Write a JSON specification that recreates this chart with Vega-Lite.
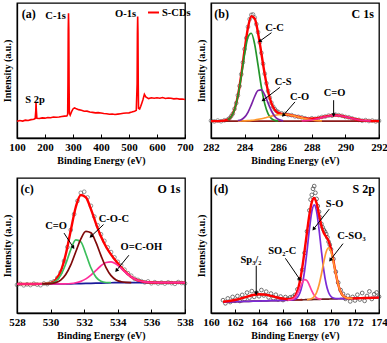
{
  "$schema": "https://vega.github.io/schema/vega-lite/v6.json",
  "background": "white",
  "padding": {"left": 1, "top": 2, "right": 0, "bottom": 0},
  "columns": 2,
  "spacing": {"row": 40, "column": 26},
  "bounds": "flush",
  "config": {
    "font": "Liberation Serif",
    "view": {"stroke": "black", "strokeWidth": 1.3},
    "axis": {"grid": false, "domainColor": "black", "domainWidth": 1.3, "tickColor": "black", "labelColor": "black", "titleColor": "black", "labelFont": "Liberation Serif", "titleFont": "Liberation Serif", "labelFontWeight": "bold", "titleFontWeight": "bold", "labelFontSize": 11, "titleFontSize": 10},
    "axisX": {"tickSize": -4, "labelPadding": 7, "titlePadding": 3, "labelOverlap": false, "labelFlush": false},
    "axisY": {"labels": false, "ticks": false, "titlePadding": 5},
    "text": {"font": "Liberation Serif", "fontWeight": "bold", "color": "black"}
  },
  "resolve": {"scale": {"x": "independent", "y": "independent", "color": "independent", "strokeWidth": "independent"}, "legend": {"color": "independent"}},
  "datasets": {
    "a_line": [
      {"x":100,"y":12.4},{"x":110,"y":12.9},{"x":120,"y":12.5},{"x":130,"y":13.2},{"x":140,"y":13.0},{"x":150,"y":13.6},{"x":160,"y":13.9},{"x":165,"y":14.5},{"x":167,"y":20.0},{"x":168,"y":26.0},{"x":169,"y":21.0},{"x":171,"y":14.6},{"x":180,"y":14.4},{"x":190,"y":14.9},{"x":200,"y":14.7},{"x":210,"y":15.2},{"x":220,"y":15.0},{"x":230,"y":15.6},{"x":240,"y":15.4},{"x":250,"y":15.6},{"x":260,"y":15.9},{"x":270,"y":16.2},{"x":278,"y":16.3},{"x":281,"y":17.5},{"x":282,"y":40},{"x":283,"y":80},{"x":284,"y":92.4},{"x":285,"y":80},{"x":286,"y":40},{"x":287,"y":18.5},{"x":290,"y":17.0},{"x":295,"y":19.5},{"x":300,"y":21.5},{"x":305,"y":22.3},{"x":310,"y":21.8},{"x":320,"y":21.0},{"x":330,"y":20.5},{"x":340,"y":19.8},{"x":350,"y":19.9},{"x":360,"y":19.3},{"x":370,"y":19.0},{"x":380,"y":18.6},{"x":390,"y":18.8},{"x":400,"y":18.5},{"x":410,"y":18.2},{"x":420,"y":18.0},{"x":430,"y":17.6},{"x":440,"y":17.8},{"x":450,"y":17.4},{"x":460,"y":17.7},{"x":470,"y":18.0},{"x":480,"y":18.3},{"x":490,"y":18.5},{"x":500,"y":18.6},{"x":510,"y":19.2},{"x":520,"y":19.9},{"x":526,"y":20.5},{"x":529,"y":40},{"x":530,"y":78},{"x":531,"y":90.0},{"x":532,"y":78},{"x":533,"y":40},{"x":534,"y":22.0},{"x":538,"y":21.5},{"x":542,"y":23.5},{"x":546,"y":26.0},{"x":550,"y":28.5},{"x":555,"y":32.3},{"x":560,"y":30.5},{"x":570,"y":29.2},{"x":580,"y":29.8},{"x":590,"y":29.4},{"x":600,"y":29.8},{"x":610,"y":29.5},{"x":620,"y":30.0},{"x":630,"y":29.3},{"x":640,"y":29.6},{"x":650,"y":29.5},{"x":660,"y":29.0},{"x":670,"y":29.2},{"x":680,"y":28.8},{"x":690,"y":28.9},{"x":700,"y":28.5}
    ],
    "a_lab": [{"x":142,"y":92,"t":"(a)"}],
    "a_ann": [{"x":237.5,"y":90.7,"t":"C-1s"},{"x":487.5,"y":91.5,"t":"O-1s"},{"x":164.8,"y":28.3,"t":"S 2p"}],
    "b_fit": [
      {"x":282.0,"base":12.5,"env":12.5},
      {"x":282.5,"env":12.5},
      {"x":283.0,"CC":13.56,"env":13.56},
      {"x":283.2,"CC":15.78,"env":15.9},
      {"x":283.4,"CC":21.0,"env":21.2},
      {"x":283.6,"CS":12.82,"CO":12.56,"CC":30.8,"env":31.2},
      {"x":283.8,"CS":13.56,"CO":12.6,"CC":45.5,"env":46.7},
      {"x":284.0,"CS":15.41,"CO":12.69,"CC":62.1,"env":65.2},
      {"x":284.2,"CS":19.03,"CO":12.83,"CC":74.7,"env":81.6},
      {"x":284.4,"CS":24.55,"CO":13.04,"CC":77.6,"env":90.2},
      {"x":284.6,"CS":30.75,"CO":13.35,"CC":69.4,"env":88.5},
      {"x":284.8,"CS":35.2,"CO":13.75,"CC":53.9,"env":77.85},
      {"x":285.0,"CS":35.6,"CO":14.26,"CC":37.7,"env":62.6},
      {"x":285.2,"CS":31.9,"CO":14.87,"CC":25.3,"env":47.1},
      {"x":285.4,"CS":25.8,"CO":15.53,"CC":17.9,"env":34.2},
      {"x":285.6,"CS":20.0,"CO":16.2,"CC":14.4,"env":25.6},
      {"x":285.8,"CS":15.97,"CO":16.79,"CC":13.06,"env":20.8},
      {"x":286.0,"CS":13.82,"CO":17.23,"CC":12.6,"env":18.65},
      {"x":286.3,"CS":12.71,"CO":17.5,"env":17.7},
      {"x":286.6,"CO":17.23,"env":17.26},
      {"x":287.0,"CO":16.2,"env":16.25},
      {"x":287.4,"CO":14.87,"CdO":12.69,"env":15.06},
      {"x":287.8,"CO":13.75,"CdO":13.08,"env":14.33},
      {"x":288.2,"CO":13.04,"CdO":13.9,"env":14.44},
      {"x":288.6,"CO":12.69,"CdO":15.11,"env":15.3},
      {"x":289.0,"CdO":16.29,"env":16.35},
      {"x":289.4,"CdO":16.8,"env":16.8},
      {"x":289.8,"CdO":16.29,"env":16.29},
      {"x":290.2,"CdO":15.11,"env":15.11},
      {"x":290.6,"CdO":13.9,"env":13.9},
      {"x":291.0,"CdO":13.08,"env":13.08},
      {"x":291.5,"CdO":12.64,"env":12.64},
      {"x":292.0,"base":12.5,"env":12.5}
    ],
    "b_obs": [
      {"x":282.0,"y":12.8},{"x":282.2,"y":12.3},{"x":282.4,"y":12.9},{"x":282.6,"y":12.4},{"x":282.8,"y":13.1},{"x":283.0,"y":13.7},{"x":283.1,"y":14.6},{"x":283.2,"y":16.2},{"x":283.3,"y":18.0},{"x":283.4,"y":21.6},{"x":283.5,"y":25.8},{"x":283.6,"y":31.6},{"x":283.7,"y":38.5},{"x":283.8,"y":47.2},{"x":283.9,"y":56.0},{"x":284.0,"y":65.8},{"x":284.1,"y":74.0},{"x":284.2,"y":82.3},{"x":284.3,"y":88.0},{"x":284.4,"y":91.2},{"x":284.5,"y":91.5},{"x":284.6,"y":89.2},{"x":284.7,"y":84.3},{"x":284.8,"y":78.4},{"x":284.9,"y":70.8},{"x":285.0,"y":63.0},{"x":285.1,"y":55.0},{"x":285.2,"y":47.6},{"x":285.3,"y":40.5},{"x":285.4,"y":34.8},{"x":285.5,"y":29.8},{"x":285.6,"y":26.1},{"x":285.7,"y":23.2},{"x":285.8,"y":21.4},{"x":285.9,"y":20.0},{"x":286.0,"y":19.2},{"x":286.2,"y":18.3},{"x":286.4,"y":17.9},{"x":286.6,"y":17.0},{"x":286.8,"y":16.9},{"x":287.0,"y":16.0},{"x":287.2,"y":15.7},{"x":287.4,"y":15.3},{"x":287.6,"y":14.6},{"x":287.8,"y":14.0},{"x":288.0,"y":14.6},{"x":288.2,"y":14.2},{"x":288.4,"y":14.9},{"x":288.6,"y":15.6},{"x":288.8,"y":15.9},{"x":289.0,"y":16.6},{"x":289.2,"y":16.5},{"x":289.4,"y":17.3},{"x":289.6,"y":16.9},{"x":289.8,"y":16.4},{"x":290.0,"y":15.6},{"x":290.2,"y":15.3},{"x":290.4,"y":14.5},{"x":290.6,"y":13.7},{"x":290.8,"y":13.4},{"x":291.0,"y":12.8},{"x":291.2,"y":13.2},{"x":291.4,"y":12.6},{"x":291.6,"y":12.9},{"x":291.8,"y":12.3},{"x":292.0,"y":12.7}
    ],
    "b_arr": [
      {"x":284.9,"y":71.7,"x2":285.6,"y2":78,"a":234},
      {"x":285.1,"y":28,"x2":286.1,"y2":37.5,"a":233},
      {"x":286.3,"y":16.75,"x2":287.0,"y2":26.75,"a":221},
      {"x":289.3,"y":17,"x2":289.3,"y2":28,"a":180}
    ],
    "b_lab": [{"x":282.63,"y":92,"t":"(b)"},{"x":291.03,"y":92,"t":"C 1s"}],
    "b_ann": [{"x":285.78,"y":81.75,"t":"C-C"},{"x":286.3,"y":41.75,"t":"C-S"},{"x":287.27,"y":30.5,"t":"C-O"},{"x":289.36,"y":33,"t":"C=O"}],
    "c_fit": [
      {"x":528.0,"base":21.5,"OCOH":21.5,"env":21.5},
      {"x":529.0,"base":21.5,"OCOH":21.5,"env":21.5},
      {"x":529.5,"base":21.5,"CdO":21.52,"COC":21.52,"OCOH":21.5,"env":21.54},
      {"x":530.0,"base":21.5,"CdO":21.98,"COC":21.78,"OCOH":21.5,"env":22.26},
      {"x":530.3,"base":21.5,"CdO":23.52,"COC":22.48,"OCOH":21.5,"env":24.5},
      {"x":530.6,"base":21.5,"CdO":27.82,"COC":24.36,"OCOH":21.52,"env":30.7},
      {"x":530.9,"base":21.55,"CdO":36.25,"COC":28.5,"OCOH":21.63,"env":43.28},
      {"x":531.2,"base":21.6,"CdO":46.9,"COC":35.66,"OCOH":21.85,"env":61.2},
      {"x":531.5,"base":21.7,"CdO":54.2,"COC":45.35,"OCOH":22.39,"env":78.54},
      {"x":531.8,"base":21.8,"CdO":52.7,"COC":54.9,"OCOH":23.43,"env":87.43},
      {"x":532.1,"base":21.9,"CdO":43.7,"COC":60.5,"OCOH":25.27,"env":85.67},
      {"x":532.4,"base":22.0,"CdO":33.5,"COC":59.4,"OCOH":28.06,"env":76.96},
      {"x":532.7,"base":22.1,"CdO":26.57,"COC":52.3,"OCOH":31.56,"env":66.23},
      {"x":533.0,"base":22.2,"CdO":23.49,"COC":42.5,"OCOH":35.03,"env":56.62},
      {"x":533.3,"base":22.3,"CdO":22.58,"COC":33.65,"OCOH":37.42,"env":49.05},
      {"x":533.6,"base":22.4,"CdO":22.44,"COC":27.68,"OCOH":37.88,"env":43.2},
      {"x":533.9,"base":22.45,"COC":24.49,"OCOH":36.22,"env":38.26},
      {"x":534.2,"base":22.5,"COC":23.16,"OCOH":33.14,"env":33.8},
      {"x":534.5,"base":22.5,"COC":22.68,"OCOH":29.64,"env":29.82},
      {"x":534.8,"base":22.5,"COC":22.54,"OCOH":26.67,"env":26.71},
      {"x":535.2,"base":22.5,"OCOH":24.13,"env":24.13},
      {"x":535.6,"base":22.5,"OCOH":23.0,"env":23.0},
      {"x":536.0,"base":22.5,"OCOH":22.62,"env":22.62},
      {"x":536.5,"base":22.5,"OCOH":22.51,"env":22.51},
      {"x":537.0,"base":22.5,"OCOH":22.5,"env":22.5},
      {"x":538.0,"base":22.5,"OCOH":22.5,"env":22.5}
    ],
    "c_obs": [
      {"x":528.0,"y":20.8},{"x":528.2,"y":21.6},{"x":528.4,"y":20.5},{"x":528.6,"y":21.2},{"x":528.8,"y":20.7},{"x":529.0,"y":21.7},{"x":529.2,"y":21.0},{"x":529.4,"y":20.6},{"x":529.6,"y":21.9},{"x":529.8,"y":21.4},{"x":530.0,"y":22.6},{"x":530.2,"y":23.5},{"x":530.4,"y":26.0},{"x":530.6,"y":30.2},{"x":530.8,"y":38.5},{"x":531.0,"y":48.8},{"x":531.2,"y":61.5},{"x":531.4,"y":73.2},{"x":531.6,"y":83.0},{"x":531.8,"y":89.0},{"x":532.0,"y":89.8},{"x":532.2,"y":85.6},{"x":532.4,"y":79.4},{"x":532.6,"y":71.5},{"x":532.8,"y":65.0},{"x":533.0,"y":58.3},{"x":533.2,"y":53.4},{"x":533.4,"y":48.6},{"x":533.6,"y":45.1},{"x":533.8,"y":41.2},{"x":534.0,"y":37.9},{"x":534.2,"y":35.2},{"x":534.4,"y":32.1},{"x":534.6,"y":29.5},{"x":534.8,"y":27.6},{"x":535.0,"y":25.4},{"x":535.2,"y":24.5},{"x":535.4,"y":23.6},{"x":535.6,"y":22.7},{"x":535.8,"y":23.4},{"x":536.0,"y":22.0},{"x":536.2,"y":22.8},{"x":536.4,"y":21.9},{"x":536.6,"y":22.5},{"x":536.8,"y":21.8},{"x":537.0,"y":22.7},{"x":537.2,"y":22.1},{"x":537.4,"y":21.6},{"x":537.6,"y":22.9},{"x":537.8,"y":22.2},{"x":538.0,"y":21.9}
    ],
    "c_arr": [
      {"x":531.35,"y":48.6,"x2":530.8,"y2":59.2,"a":147},
      {"x":532.4,"y":56.7,"x2":533.15,"y2":65.5,"a":227},
      {"x":533.92,"y":31.5,"x2":534.66,"y2":42.8,"a":219}
    ],
    "c_lab": [{"x":528.6,"y":92,"t":"(c)"},{"x":537.05,"y":92,"t":"O 1s"}],
    "c_ann": [{"x":530.33,"y":64.2,"t":"C=O"},{"x":533.77,"y":69.3,"t":"C-O-C"},{"x":535.4,"y":49.1,"t":"O=C-OH"}],
    "d_fit": [
      {"x":161.0,"base":8.10,"Sp":8.32,"SO":8.10,"env":8.32},
      {"x":161.5,"base":8.23,"Sp":8.80,"SO":8.23,"env":8.80},
      {"x":162.0,"base":8.35,"Sp":9.60,"SO":8.35,"env":9.60},
      {"x":162.5,"base":8.48,"Sp":10.77,"SO":8.48,"env":10.77},
      {"x":163.0,"base":8.61,"Sp":12.14,"SO":8.61,"env":12.14},
      {"x":163.5,"base":8.74,"Sp":13.32,"SO":8.74,"env":13.32},
      {"x":164.0,"base":8.86,"Sp":13.86,"SO":8.86,"env":13.86},
      {"x":164.5,"base":8.99,"Sp":13.57,"SO":8.99,"env":13.57},
      {"x":165.0,"base":9.12,"Sp":12.65,"SO":9.12,"env":12.65},
      {"x":165.5,"base":9.24,"Sp":11.53,"SO":9.24,"env":11.53},
      {"x":166.0,"base":9.37,"Sp":10.62,"SO":9.37,"env":10.62},
      {"x":166.4,"base":9.47,"Sp":10.15,"SO2C":9.51,"SO":9.48,"env":10.2},
      {"x":166.8,"base":9.57,"Sp":9.90,"SO2C":10.23,"SO":9.74,"env":10.73},
      {"x":167.0,"base":9.62,"Sp":9.84,"SO2C":11.56,"SO":10.23,"env":12.39},
      {"x":167.2,"base":9.67,"Sp":9.81,"SO2C":14.2,"SO":11.53,"env":16.2},
      {"x":167.4,"base":9.73,"Sp":9.82,"SO2C":18.18,"SO":14.59,"env":23.13},
      {"x":167.6,"base":9.78,"Sp":9.84,"SO2C":22.35,"SO":20.78,"env":33.41},
      {"x":167.8,"base":9.83,"SO2C":24.73,"SO":31.23,"env":46.16},
      {"x":168.0,"base":9.88,"SO2C":23.95,"CSO3":9.94,"SO":45.78,"env":59.91},
      {"x":168.2,"base":9.93,"SO2C":20.53,"CSO3":10.16,"SO":61.98,"env":72.81},
      {"x":168.4,"base":9.98,"SO2C":16.35,"CSO3":10.73,"SO":74.98,"env":82.1},
      {"x":168.6,"base":10.03,"SO2C":13.08,"CSO3":12.16,"SO":80.03,"env":85.21},
      {"x":168.8,"base":10.08,"SO2C":11.24,"CSO3":15.22,"SO":75.08,"env":81.38},
      {"x":169.0,"base":10.13,"SO2C":10.48,"CSO3":20.69,"SO":62.18,"env":73.09},
      {"x":169.2,"base":10.18,"SO2C":10.27,"CSO3":28.68,"SO":46.08,"env":64.67},
      {"x":169.4,"base":10.24,"CSO3":37.84,"SO":31.64,"env":59.24},
      {"x":169.6,"base":10.29,"CSO3":45.39,"SO":21.29,"env":56.39},
      {"x":169.8,"base":10.34,"CSO3":48.34,"SO":15.2,"env":53.2},
      {"x":170.0,"base":10.39,"CSO3":45.49,"SO":12.25,"env":47.35},
      {"x":170.2,"base":10.44,"CSO3":38.04,"SO":11.05,"env":38.65},
      {"x":170.4,"base":10.49,"CSO3":28.99,"SO":10.66,"env":29.16},
      {"x":170.6,"base":10.54,"CSO3":21.1,"SO":10.58,"env":21.14},
      {"x":170.8,"base":10.59,"CSO3":15.73,"SO":10.59,"env":15.73},
      {"x":171.0,"base":10.64,"CSO3":12.77,"SO":10.64,"env":12.77},
      {"x":171.4,"base":10.74,"CSO3":10.97,"SO":10.74,"env":10.97},
      {"x":171.8,"base":10.84,"CSO3":10.85,"SO":10.84,"env":10.85},
      {"x":172.5,"base":11.02,"SO":11.02,"env":11.02},
      {"x":173.0,"base":11.15,"SO":11.15,"env":11.15},
      {"x":174.0,"base":11.40,"SO":11.40,"env":11.40}
    ],
    "d_obs": [
      {"x":161.0,"y":9.5},{"x":161.2,"y":7.2},{"x":161.4,"y":10.8},{"x":161.6,"y":8.1},{"x":161.8,"y":11.9},{"x":162.0,"y":9.0},{"x":162.2,"y":12.6},{"x":162.4,"y":8.9},{"x":162.6,"y":13.4},{"x":162.8,"y":10.2},{"x":163.0,"y":15.1},{"x":163.2,"y":11.3},{"x":163.4,"y":16.2},{"x":163.6,"y":12.0},{"x":163.8,"y":15.0},{"x":164.0,"y":12.4},{"x":164.2,"y":17.0},{"x":164.4,"y":13.0},{"x":164.6,"y":15.8},{"x":164.8,"y":11.6},{"x":165.0,"y":14.4},{"x":165.2,"y":10.8},{"x":165.4,"y":13.5},{"x":165.6,"y":10.0},{"x":165.8,"y":12.2},{"x":166.0,"y":9.6},{"x":166.2,"y":11.8},{"x":166.4,"y":10.4},{"x":166.6,"y":11.6},{"x":166.8,"y":12.0},{"x":167.0,"y":13.4},{"x":167.2,"y":17.5},{"x":167.4,"y":24.8},{"x":167.6,"y":32.0},{"x":167.8,"y":44.5},{"x":168.0,"y":60.5},{"x":168.2,"y":76.0},{"x":168.3,"y":84.0},{"x":168.4,"y":87.5},{"x":168.5,"y":92.0},{"x":168.6,"y":94.0},{"x":168.7,"y":89.0},{"x":168.8,"y":84.5},{"x":168.9,"y":79.2},{"x":169.0,"y":75.0},{"x":169.1,"y":70.8},{"x":169.2,"y":66.0},{"x":169.3,"y":63.5},{"x":169.4,"y":61.5},{"x":169.5,"y":60.2},{"x":169.6,"y":58.5},{"x":169.7,"y":56.0},{"x":169.8,"y":52.8},{"x":169.9,"y":50.5},{"x":170.0,"y":47.2},{"x":170.2,"y":40.0},{"x":170.4,"y":30.5},{"x":170.6,"y":22.5},{"x":170.8,"y":17.0},{"x":171.0,"y":14.2},{"x":171.2,"y":10.5},{"x":171.4,"y":12.8},{"x":171.6,"y":8.6},{"x":171.8,"y":11.9},{"x":172.0,"y":9.3},{"x":172.2,"y":13.5},{"x":172.4,"y":10.0},{"x":172.6,"y":14.8},{"x":172.8,"y":9.0},{"x":173.0,"y":12.6},{"x":173.2,"y":16.0},{"x":173.4,"y":10.4},{"x":173.6,"y":13.9},{"x":173.8,"y":15.2},{"x":174.0,"y":12.1}
    ],
    "d_arr": [
      {"x":168.55,"y":62.2,"x2":169.86,"y2":77,"a":218},
      {"x":169.94,"y":39.2,"x2":171.0,"y2":51.4,"a":218},
      {"x":167.4,"y":24.9,"x2":166.2,"y2":40.5,"a":146},
      {"x":163.77,"y":14.5,"x2":163.77,"y2":35,"a":180}
    ],
    "d_lab": [{"x":160.83,"y":92,"t":"(d)"},{"x":172.73,"y":92,"t":"S 2p"}],
    "d_ann": [{"x":170.3,"y":81,"t":"S-O"},{"x":171.7,"y":56.8,"t":"C-SO₃"},{"x":165.94,"y":46,"t":"SO₂-C"},{"x":163.33,"y":39.5,"t":"Sp₃/₂"}]
  },
  "concat": [
    {
      "width": 168, "height": 135,
      "encoding": {
        "x": {"field": "x", "type": "quantitative", "scale": {"domain": [100, 700], "nice": false, "zero": false}, "axis": {"values": [100,200,300,400,500,600,700], "title": "Binding Energy (eV)"}},
        "y": {"field": "y", "type": "quantitative", "scale": {"domain": [0, 100], "nice": false}, "axis": {"title": "Intensity (a.u.)"}}
      },
      "layer": [
        {"data": {"name": "a_line"}, "mark": {"type": "line", "strokeWidth": 1.6}, "encoding": {"color": {"datum": "S-CDs", "type": "nominal", "scale": {"range": ["#ff0000"]}, "legend": {"title": null, "orient": "none", "legendX": 130, "legendY": 3, "symbolType": "stroke", "symbolStrokeWidth": 2, "symbolSize": 120, "labelFont": "Liberation Serif", "labelFontWeight": "bold", "labelFontSize": 10.5, "labelColor": "black", "labelOffset": 2, "padding": 0}}}},
        {"data": {"name": "a_lab"}, "mark": {"type": "text", "fontSize": 12}, "encoding": {"text": {"field": "t"}}},
        {"data": {"name": "a_ann"}, "mark": {"type": "text", "fontSize": 10.5}, "encoding": {"text": {"field": "t"}}}
      ]
    },
    {
      "width": 168, "height": 135,
      "encoding": {
        "x": {"field": "x", "type": "quantitative", "scale": {"domain": [282, 292], "nice": false, "zero": false}, "axis": {"values": [282,284,286,288,290,292], "title": "Binding Energy (eV)"}},
        "y": {"field": "y", "type": "quantitative", "scale": {"domain": [0, 100], "nice": false}, "axis": {"title": "Intensity (a.u.)"}}
      },
      "layer": [
        {"data": {"name": "b_obs"}, "mark": {"type": "point", "filled": false, "size": 14, "color": "#444444", "strokeWidth": 0.7, "opacity": 0.8}},
        {"data": {"name": "b_fit"}, "transform": [{"fold": ["base","CO","CdO","CS","CC","env"], "as": ["k","y"]}, {"filter": "isValid(datum.y)"}],
         "mark": {"type": "line", "interpolate": "monotone"},
         "encoding": {"color": {"field": "k", "type": "nominal", "scale": {"domain": ["base","CO","CdO","CS","CC","env"], "range": ["#8b1a1a","#ff9a2e","#f0288c","#7a22a6","#23952a","#ff0000"]}, "legend": null},
                      "strokeWidth": {"condition": {"test": "datum.k === 'env'", "value": 2.4}, "value": 1.7}}},
        {"data": {"name": "b_arr"}, "mark": {"type": "rule", "color": "black", "strokeWidth": 1}, "encoding": {"x2": {"field": "x2"}, "y2": {"field": "y2"}}},
        {"data": {"name": "b_arr"}, "mark": {"type": "point", "shape": "triangle-up", "filled": true, "color": "black", "size": 18, "opacity": 1}, "encoding": {"angle": {"field": "a", "type": "quantitative", "scale": null}}},
        {"data": {"name": "b_lab"}, "mark": {"type": "text", "fontSize": 12}, "encoding": {"text": {"field": "t"}}},
        {"data": {"name": "b_ann"}, "mark": {"type": "text", "fontSize": 10.5}, "encoding": {"text": {"field": "t"}}}
      ]
    },
    {
      "width": 168, "height": 135,
      "encoding": {
        "x": {"field": "x", "type": "quantitative", "scale": {"domain": [528, 538], "nice": false, "zero": false}, "axis": {"values": [528,530,532,534,536,538], "title": "Binding Energy (eV)"}},
        "y": {"field": "y", "type": "quantitative", "scale": {"domain": [0, 100], "nice": false}, "axis": {"title": "Intensity (a.u.)"}}
      },
      "layer": [
        {"data": {"name": "c_obs"}, "mark": {"type": "point", "filled": false, "size": 14, "color": "#444444", "strokeWidth": 0.7, "opacity": 0.8}},
        {"data": {"name": "c_fit"}, "transform": [{"fold": ["base","CdO","COC","env","OCOH"], "as": ["k","y"]}, {"filter": "isValid(datum.y)"}],
         "mark": {"type": "line", "interpolate": "monotone"},
         "encoding": {"color": {"field": "k", "type": "nominal", "scale": {"domain": ["base","CdO","COC","env","OCOH"], "range": ["#1a1a9a","#3cbf5c","#7f0a0a","#ff0000","#ff2d9b"]}, "legend": null},
                      "strokeWidth": {"condition": {"test": "datum.k === 'env'", "value": 2.4}, "value": 1.7}}},
        {"data": {"name": "c_arr"}, "mark": {"type": "rule", "color": "black", "strokeWidth": 1}, "encoding": {"x2": {"field": "x2"}, "y2": {"field": "y2"}}},
        {"data": {"name": "c_arr"}, "mark": {"type": "point", "shape": "triangle-up", "filled": true, "color": "black", "size": 18, "opacity": 1}, "encoding": {"angle": {"field": "a", "type": "quantitative", "scale": null}}},
        {"data": {"name": "c_lab"}, "mark": {"type": "text", "fontSize": 12}, "encoding": {"text": {"field": "t"}}},
        {"data": {"name": "c_ann"}, "mark": {"type": "text", "fontSize": 10.5}, "encoding": {"text": {"field": "t"}}}
      ]
    },
    {
      "width": 168, "height": 135,
      "encoding": {
        "x": {"field": "x", "type": "quantitative", "scale": {"domain": [160, 174], "nice": false, "zero": false}, "axis": {"values": [160,162,164,166,168,170,172,174], "title": "Binding Energy (eV)"}},
        "y": {"field": "y", "type": "quantitative", "scale": {"domain": [0, 100], "nice": false}, "axis": {"title": "Intensity (a.u.)"}}
      },
      "layer": [
        {"data": {"name": "d_obs"}, "mark": {"type": "point", "filled": false, "size": 14, "color": "#333333", "strokeWidth": 0.8, "opacity": 0.85}},
        {"data": {"name": "d_fit"}, "transform": [{"fold": ["base","Sp","SO2C","CSO3","SO","env"], "as": ["k","y"]}, {"filter": "isValid(datum.y)"}],
         "mark": {"type": "line", "interpolate": "monotone"},
         "encoding": {"color": {"field": "k", "type": "nominal", "scale": {"domain": ["base","Sp","SO2C","CSO3","SO","env"], "range": ["#6b2020","#9b1010","#ff3fa0","#ff9933","#7b2bd6","#ff0000"]}, "legend": null},
                      "strokeWidth": {"condition": {"test": "datum.k === 'env'", "value": 2.4}, "value": 1.7}}},
        {"data": {"name": "d_arr"}, "mark": {"type": "rule", "color": "black", "strokeWidth": 1}, "encoding": {"x2": {"field": "x2"}, "y2": {"field": "y2"}}},
        {"data": {"name": "d_arr"}, "mark": {"type": "point", "shape": "triangle-up", "filled": true, "color": "black", "size": 18, "opacity": 1}, "encoding": {"angle": {"field": "a", "type": "quantitative", "scale": null}}},
        {"data": {"name": "d_lab"}, "mark": {"type": "text", "fontSize": 12}, "encoding": {"text": {"field": "t"}}},
        {"data": {"name": "d_ann"}, "mark": {"type": "text", "fontSize": 10.5}, "encoding": {"text": {"field": "t"}}}
      ]
    }
  ]
}
